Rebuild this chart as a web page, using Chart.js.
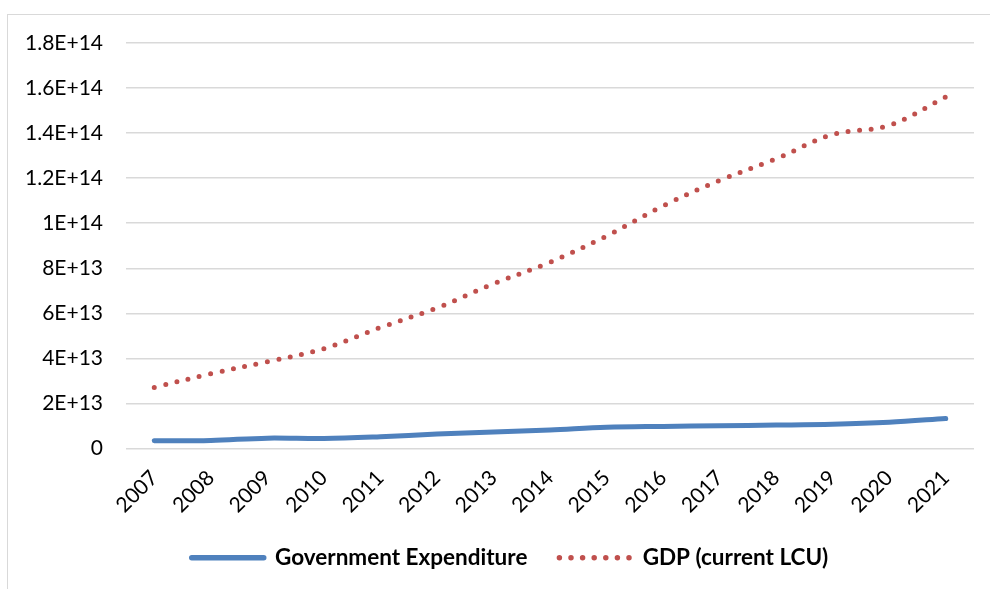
<!DOCTYPE html>
<html>
<head>
<meta charset="utf-8">
<script src="https://cdn.jsdelivr.net/npm/chart.js@4.4.1/dist/chart.umd.min.js"></script>
<style>
  html, body { margin: 0; padding: 0; background: #fff; }
  #wrap { position: relative; width: 990px; height: 589px; overflow: hidden; }
  #frame { position: absolute; left: 7px; top: 14px; width: 1000px; height: 600px; border: 1px solid #d9d9d9; pointer-events: none; }
  canvas { position: absolute; left: 0; top: 0; }
</style>
</head>
<body>
<div id="wrap">
  <canvas id="govChart" width="990" height="589"></canvas>
  <div id="frame"></div>
</div>
<script>
const years = ['2007', '2008', '2009', '2010', '2011', '2012', '2013', '2014', '2015', '2016', '2017', '2018', '2019', '2020', '2021'];
const govExpenditure = [3.4e12, 3.6e12, 4.6e12, 4.4e12, 5.2e12, 6.4e12, 7.3e12, 8.2e12, 9.4e12, 9.8e12, 1.01e13, 1.04e13, 1.08e13, 1.17e13, 1.33e13];
const gdpCurrentLcu = [2.71e13, 3.32e13, 3.85e13, 4.43e13, 5.37e13, 6.24e13, 7.31e13, 8.27e13, 9.43e13, 1.077e14, 1.19e14, 1.286e14, 1.394e14, 1.434e14, 1.56e14];
const yTickLabels = {0: '0', 2e13: '2E+13', 4e13: '4E+13', 6e13: '6E+13', 8e13: '8E+13', 1e14: '1E+14', 1.2e14: '1.2E+14', 1.4e14: '1.4E+14', 1.6e14: '1.6E+14', 1.8e14: '1.8E+14'};

const fontFamily = 'Lato, "Open Sans", sans-serif';

const govChartElem = document.getElementById('govChart').getContext('2d');

// nudge the legend box so it is centred like the original
const legendShift = {
    id: 'legendShift',
    afterLayout(chart) {
        if (chart.legend) {
            chart.legend.left += 46;
        }
    },
};

const govData = {
    labels: years,
    datasets: [{
        label: 'Government Expenditure',
        data: govExpenditure,
        borderColor: '#4F81BD',
        backgroundColor: '#4F81BD',
        borderWidth: 5,
        borderCapStyle: 'round',
        tension: 0.35,
        pointRadius: 0,
        fill: false,
    }, {
        label: 'GDP (current LCU)',
        data: gdpCurrentLcu,
        borderColor: '#C0504D',
        backgroundColor: '#C0504D',
        borderWidth: 5,
        borderCapStyle: 'round',
        borderDash: [0, 11.6],
        tension: 0.35,
        pointRadius: 0,
        fill: false,
    }],
};

const govConfig = {
    type: 'line',
    data: govData,
    plugins: [legendShift],
    options: {
        responsive: false,
        animation: false,
        layout: {
            padding: { left: 0, right: 16, top: 43, bottom: 10 },
        },
        scales: {
            x: {
                offset: true,
                grid: { display: false, drawTicks: false },
                border: { display: false },
                ticks: {
                    color: '#000',
                    font: { family: fontFamily, size: 21 },
                    maxRotation: 45,
                    minRotation: 45,
                    padding: 17,
                    autoSkip: false,
                },
                afterFit: (scale) => { scale.height = 66; },
            },
            y: {
                min: 0,
                max: 1.8e14,
                grid: { color: '#d9d9d9', lineWidth: 1.5, drawTicks: false },
                border: { display: false },
                ticks: {
                    stepSize: 2e13,
                    color: '#000',
                    font: { family: fontFamily, size: 21 },
                    padding: 23,
                    callback: (value) => yTickLabels[value] ?? '',
                },
                afterFit: (scale) => { scale.width = 126; },
            },
        },
        plugins: {
            legend: {
                position: 'bottom',
                labels: {
                    color: '#000',
                    font: { family: fontFamily, size: 22.5, weight: 'bold' },
                    usePointStyle: true,
                    pointStyleWidth: 72,
                    boxHeight: 20,
                    padding: 32,
                    generateLabels: (chart) => chart.data.datasets.map((ds, i) => ({
                        text: ds.label,
                        fillStyle: ds.borderColor,
                        strokeStyle: ds.borderColor,
                        lineWidth: ds.borderWidth + 0.5,
                        lineCap: 'round',
                        lineDash: ds.borderDash || [],
                        pointStyle: 'line',
                        datasetIndex: i,
                        fontColor: '#000',
                    })),
                },
            },
            tooltip: { enabled: false },
        },
    },
};

const govChart = new Chart(govChartElem, govConfig);
</script>
</body>
</html>
